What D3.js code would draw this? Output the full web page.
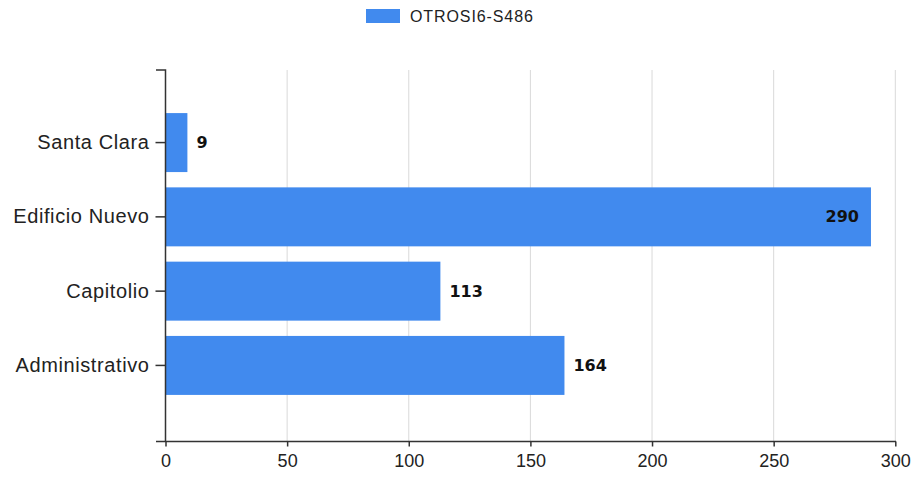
<!DOCTYPE html>
<html>
<head>
<meta charset="utf-8">
<script src="https://cdn.jsdelivr.net/npm/d3@7/dist/d3.min.js"></script>
<style>
  html, body { margin: 0; padding: 0; background: #fff; }
  svg { display: block; }
</style>
</head>
<body>
<svg id="chart" width="914" height="479"></svg>
<script>
// Sites and counts for series OTROSI6-S486
const categories = ["Santa Clara", "Edificio Nuevo", "Capitolio", "Administrativo"];
const values = [9, 290, 113, 164];
const seriesName = "OTROSI6-S486";
const xTicks = [0, 50, 100, 150, 200, 250, 300];

const svg = d3.select("#chart");
const barColor = "#418aee";
const axisColor = "#333";

const plotLeft = 165.5, plotRight = 895.3;
const plotTop = 70, plotBottom = 441.5;

const x = d3.scaleLinear().domain([0, 300]).range([plotLeft, plotRight]);
const y = d3.scaleBand().domain(categories).range([plotTop, 438])
  .paddingInner(0.206).paddingOuter(0.58);

// vertical gridlines
svg.append("g").selectAll("line")
  .data(xTicks.filter(t => t > 0))
  .join("line")
  .attr("x1", d => x(d)).attr("x2", d => x(d))
  .attr("y1", plotTop).attr("y2", plotBottom)
  .attr("stroke", "#d9d9d9").attr("stroke-width", 1);

// bars
svg.append("g").selectAll("rect")
  .data(categories)
  .join("rect")
  .attr("x", x(0) + 0.5)
  .attr("y", d => y(d))
  .attr("width", (d, i) => x(values[i]) - x(0) - 0.5)
  .attr("height", y.bandwidth())
  .attr("fill", barColor);

// value labels: inside the bar end when the bar is long, otherwise just past it
svg.append("g").selectAll("text")
  .data(categories)
  .join("text")
  .attr("x", (d, i) => values[i] > 250 ? x(values[i]) - 12 : x(values[i]) + 9)
  .attr("y", d => y(d) + y.bandwidth() / 2)
  .attr("dy", "0.35em")
  .attr("text-anchor", (d, i) => values[i] > 250 ? "end" : "start")
  .attr("font-family", "DejaVu Sans, Verdana, sans-serif")
  .attr("font-weight", "bold")
  .attr("font-size", 16)
  .attr("fill", "#111")
  .text((d, i) => values[i]);

// y axis
const yAxis = d3.axisLeft(y).tickSize(10).tickSizeOuter(0).tickPadding(6);
const gy = svg.append("g").attr("transform", `translate(${plotLeft},0)`).call(yAxis);
gy.select(".domain").remove();
gy.selectAll(".tick line").attr("stroke", axisColor).attr("stroke-width", 1.5);
gy.selectAll(".tick text")
  .attr("font-family", "Liberation Sans, Arial, sans-serif")
  .attr("font-size", 20).attr("letter-spacing", "0.6px").attr("fill", "#222");
gy.append("path")
  .attr("d", `M${-9.5},${plotTop}H0V${plotBottom}`)
  .attr("fill", "none").attr("stroke", axisColor).attr("stroke-width", 1.5);

// x axis
const xAxis = d3.axisBottom(x).tickValues(xTicks).tickSize(5).tickSizeOuter(0).tickPadding(8);
const gx = svg.append("g").attr("transform", `translate(0,${plotBottom})`).call(xAxis);
gx.select(".domain").remove();
gx.selectAll(".tick line").attr("stroke", axisColor).attr("stroke-width", 1.5);
gx.selectAll(".tick text")
  .attr("font-family", "Liberation Sans, Arial, sans-serif")
  .attr("font-size", 18).attr("fill", "#222");
gx.append("path")
  .attr("d", `M${plotLeft - 9.5},0H${plotRight + 0.75}`)
  .attr("fill", "none").attr("stroke", axisColor).attr("stroke-width", 1.5);

// legend
const legend = svg.append("g");
legend.append("rect")
  .attr("x", 366).attr("y", 9).attr("width", 34).attr("height", 14)
  .attr("fill", barColor);
legend.append("text")
  .attr("x", 410).attr("y", 16).attr("dy", "0.35em")
  .attr("font-family", "Liberation Sans, Arial, sans-serif")
  .attr("font-size", 16).attr("letter-spacing", "0.9px").attr("fill", "#222")
  .text(seriesName);
</script>
</body>
</html>
